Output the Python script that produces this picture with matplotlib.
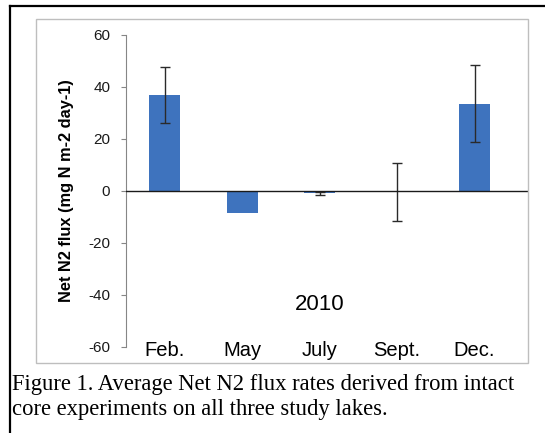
import numpy as np
import matplotlib
matplotlib.use("Agg")
import matplotlib.pyplot as plt
from matplotlib.lines import Line2D
from matplotlib.patches import Rectangle

categories = ["Feb.", "May", "July", "Sept.", "Dec."]
flux = [37.0, -8.3, -0.9, -0.4, 33.6]
flux_err = [10.8, np.nan, 0.6, 11.0, 14.8]
year_label = "2010"
y_ticks = [-60, -40, -20, 0, 20, 40, 60]
y_label = "Net N2 flux (mg N m-2 day-1)"
caption_lines = ["Figure 1. Average Net N2 flux rates derived from intact",
                 "core experiments on all three study lakes."]

W, H = 545, 433
fig = plt.figure(figsize=(W / 100, H / 100), dpi=100)
fig.patch.set_facecolor("white")

def fx(px):
    return px / W

def fy(py):
    return 1 - py / H

# outer black border (top and left visible)
fig.add_artist(Line2D([fx(10), fx(545)], [fy(6), fy(6)], color="black", lw=1.6,
                      transform=fig.transFigure))
fig.add_artist(Line2D([fx(10), fx(10)], [fy(6), fy(433)], color="black", lw=1.6,
                      transform=fig.transFigure))
# inner grey chart box
fig.add_artist(Rectangle((fx(36), fy(363)), fx(528) - fx(36), fy(19) - fy(363),
                         fill=False, edgecolor="#BEBEBE", lw=1.0,
                         transform=fig.transFigure))

ax = fig.add_axes([fx(126), fy(347), fx(528) - fx(126), fy(35) - fy(347)])
ax.set_facecolor("none")
x = np.arange(len(categories))
ax.bar(x, flux, width=0.4, color="#3E73BE", zorder=2)
ax.errorbar(x, flux, yerr=flux_err, fmt="none", ecolor="#2a2a2a", elinewidth=1.0,
            capsize=3.6, capthick=1.0, zorder=3)
ax.axhline(0, color="#1a1a1a", lw=1.0, zorder=4)

ax.set_ylim(-60, 60)
ax.set_xlim(-0.497, 4.69)
ax.set_yticks(y_ticks)
ax.set_yticklabels([str(v) for v in y_ticks], fontfamily="Liberation Sans", fontsize=11,
                   color="#1a1a1a")
ax.set_xticks([])
ax.tick_params(axis="y", direction="out", length=3.8, width=0.8, color="#868686", pad=7.5)
for s in ["top", "right", "bottom"]:
    ax.spines[s].set_visible(False)
ax.spines["left"].set_color("#868686")
ax.spines["left"].set_linewidth(0.8)

for i, c in enumerate(categories):
    ax.text(i, -61.2, c, ha="center", va="center", fontfamily="Liberation Sans",
            fontsize=14.5, color="black", clip_on=False)

ax.text(2, -43.8, year_label, ha="center", va="center", fontfamily="Liberation Sans",
        fontsize=16, color="black")

fig.text(fx(67), fy(191), y_label, rotation=90, ha="center", va="center",
         fontfamily="Liberation Sans", fontweight="bold", fontsize=11.8, color="black")

fig.text(fx(12), fy(390), caption_lines[0], ha="left", va="baseline",
         fontfamily="Liberation Serif", fontsize=16.3, color="black")
fig.text(fx(12), fy(415), caption_lines[1], ha="left", va="baseline",
         fontfamily="Liberation Serif", fontsize=16.3, color="black")

fig.savefig("out.png", dpi=100)
